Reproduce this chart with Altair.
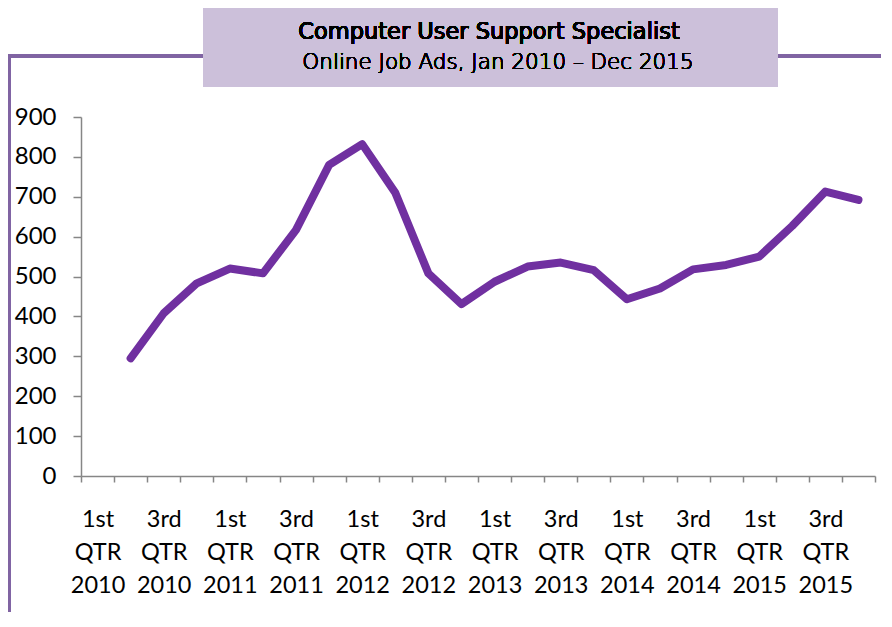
import altair as alt
import pandas as pd

quarters = [
    "1st QTR 2010", "2nd QTR 2010", "3rd QTR 2010", "4th QTR 2010",
    "1st QTR 2011", "2nd QTR 2011", "3rd QTR 2011", "4th QTR 2011",
    "1st QTR 2012", "2nd QTR 2012", "3rd QTR 2012", "4th QTR 2012",
    "1st QTR 2013", "2nd QTR 2013", "3rd QTR 2013", "4th QTR 2013",
    "1st QTR 2014", "2nd QTR 2014", "3rd QTR 2014", "4th QTR 2014",
    "1st QTR 2015", "2nd QTR 2015", "3rd QTR 2015", "4th QTR 2015",
]
job_ads = [None, 295, 408, 483, 520, 508, 617, 780, 832, 710, 508, 431,
           487, 525, 535, 516, 443, 470, 518, 529, 550, 627, 713, 692]
y_ticks = [0, 100, 200, 300, 400, 500, 600, 700, 800, 900]
title_text = "Computer User Support Specialist"
subtitle_text = "Online Job Ads, Jan 2010 \u2013 Dec 2015"

df = pd.DataFrame({
    "quarter": quarters,
    "pos": [i + 0.5 for i in range(len(quarters))],
    "ads": job_ads,
}).dropna()

label_list = [q.split(" ") for q in quarters[::2]]
label_js = "[" + ",".join("[" + ",".join(f"'{p}'" for p in parts) + "]" for parts in label_list) + "]"
label_expr = f"datum.value % 2 == 0.5 ? {label_js}[floor(datum.value / 2)] : ''"

FONT = "Lato"
TITLE_FONT = "DejaVu Sans"
AXIS_GRAY = "#868686"
PURPLE = "#7030A0"
FRAME = "#8064A2"
BOX = "#CCC0DA"

x_enc = alt.X(
    "pos:Q",
    scale=alt.Scale(domain=[0, 24], nice=False, zero=False),
    axis=alt.Axis(
        values=[i * 0.5 for i in range(49)],
        labelExpr=label_expr,
        labelOverlap=False,
        labelFlush=False,
        labelBound=False,
        labelFontSize=23.5,
        labelFont=FONT,
        labelColor="#000000",
        labelLineHeight=33,
        labelBaseline="top",
        labelPadding=25,
        tickSize=6,
        tickColor=AXIS_GRAY,
        tickWidth=1.5,
        tickOpacity={"condition": {"test": "datum.value % 1 == 0", "value": 1}, "value": 0},
        domainColor=AXIS_GRAY,
        domainWidth=1.5,
        grid=False,
        title=None,
    ),
)
y_enc = alt.Y(
    "ads:Q",
    scale=alt.Scale(domain=[0, 900], nice=False),
    axis=alt.Axis(
        values=y_ticks,
        labelFontSize=24,
        labelFont=FONT,
        labelColor="#000000",
        labelPadding=17,
        tickSize=8,
        tickColor=AXIS_GRAY,
        tickWidth=1.5,
        domainColor=AXIS_GRAY,
        domainWidth=1.5,
        grid=False,
        title=None,
    ),
)

line = alt.Chart(df).mark_line(
    color=PURPLE, strokeWidth=8, strokeCap="round", strokeJoin="round"
).encode(x=x_enc, y=y_enc)

box = alt.Chart(df).mark_rect(fill=BOX).encode(
    x=alt.value(122), x2=alt.value(697), y=alt.value(-112), y2=alt.value(-30)
)
frame_left = alt.Chart(df).mark_rule(color=FRAME, strokeWidth=2.5).encode(
    x=alt.value(-72), y=alt.value(-61), y2=alt.value(520)
)
frame_top_l = alt.Chart(df).mark_rule(color=FRAME, strokeWidth=2.5).encode(
    x=alt.value(-73), x2=alt.value(122), y=alt.value(-61)
)
frame_top_r = alt.Chart(df).mark_rule(color=FRAME, strokeWidth=2.5).encode(
    x=alt.value(697), x2=alt.value(800), y=alt.value(-61)
)
title = alt.Chart(df).mark_text(
    text=title_text, font=TITLE_FONT, fontSize=22.5, fontWeight="normal", color="#000000",
    align="center", baseline="alphabetic"
).encode(x=alt.value(408), y=alt.value(-78))
subtitle = alt.Chart(df).mark_text(
    text=subtitle_text, font=TITLE_FONT, fontSize=21.5, fontWeight=200, color="#000000",
    align="center", baseline="alphabetic"
).encode(x=alt.value(417), y=alt.value(-48))

chart = alt.layer(
    box, frame_left, frame_top_l, frame_top_r, title, subtitle, line
).properties(
    width=794,
    height=359,
    autosize=alt.AutoSizeParams(type="none"),
    padding={"left": 73, "top": 109, "right": 9, "bottom": 136},
).configure_view(stroke=None)

chart.save("out.html", embed_options={"renderer": "svg", "actions": False})
